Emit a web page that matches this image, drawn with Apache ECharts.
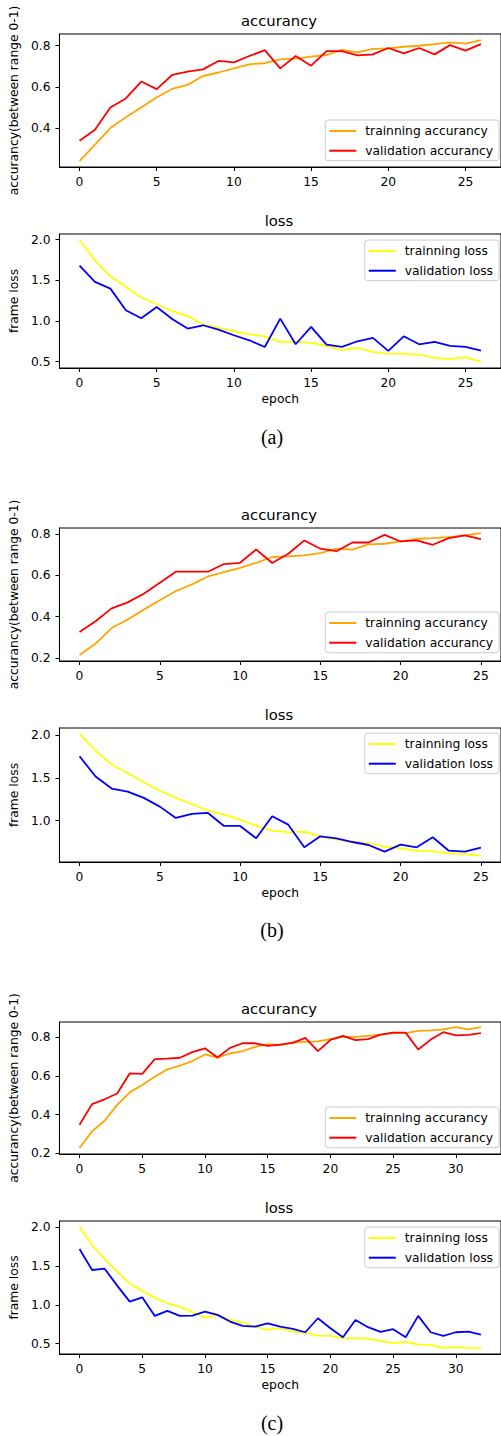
<!DOCTYPE html>
<html>
<head>
<meta charset="utf-8">
<script src="https://cdn.jsdelivr.net/npm/echarts@6/dist/echarts.min.js"></script>
<style>
  html, body { margin: 0; padding: 0; background: #fff; }
  #main { width: 501px; height: 1436px; }
</style>
</head>
<body>
<div id="main"></div>
<script>
// (a) 27 epochs
var trainAccA = [0.24,0.32,0.40,0.453,0.50,0.55,0.59,0.61,0.653,0.67,0.69,0.71,0.715,0.734,0.737,0.747,0.755,0.78,0.768,0.785,0.787,0.795,0.80,0.808,0.816,0.81,0.827];
var valAccA   = [0.339,0.392,0.50,0.544,0.626,0.589,0.658,0.674,0.685,0.726,0.719,0.75,0.779,0.69,0.75,0.703,0.774,0.774,0.753,0.758,0.789,0.763,0.789,0.758,0.803,0.776,0.808];
var trainLossA = [2.0,1.746,1.55,1.42,1.287,1.205,1.123,1.06,0.959,0.918,0.873,0.836,0.811,0.742,0.746,0.73,0.693,0.64,0.668,0.619,0.598,0.594,0.586,0.545,0.533,0.553,0.50];
var valLossA   = [1.68,1.48,1.398,1.131,1.033,1.172,1.025,0.906,0.947,0.893,0.824,0.762,0.68,1.029,0.713,0.926,0.709,0.68,0.75,0.791,0.631,0.811,0.713,0.742,0.693,0.68,0.635];

// (b) 26 epochs
var trainAccB = [0.215,0.27,0.345,0.386,0.434,0.479,0.524,0.556,0.594,0.615,0.636,0.66,0.688,0.691,0.696,0.707,0.728,0.724,0.749,0.752,0.763,0.776,0.779,0.784,0.792,0.803];
var valAccB   = [0.326,0.378,0.44,0.469,0.511,0.564,0.617,0.617,0.617,0.654,0.66,0.724,0.659,0.704,0.768,0.728,0.716,0.758,0.758,0.795,0.763,0.768,0.747,0.779,0.792,0.774];
var trainLossB = [2.016,1.82,1.656,1.555,1.45,1.35,1.266,1.195,1.117,1.07,1.012,0.941,0.883,0.863,0.871,0.813,0.777,0.758,0.734,0.695,0.676,0.648,0.641,0.617,0.609,0.59];
var valLossB   = [1.754,1.516,1.375,1.34,1.266,1.164,1.031,1.078,1.09,0.938,0.938,0.793,1.051,0.953,0.688,0.816,0.793,0.75,0.715,0.637,0.719,0.688,0.805,0.648,0.637,0.684];

// (c) 33 epochs
var trainAccC = [0.227,0.313,0.368,0.45,0.515,0.553,0.596,0.634,0.653,0.677,0.711,0.695,0.716,0.728,0.75,0.764,0.759,0.773,0.776,0.779,0.79,0.802,0.802,0.807,0.814,0.822,0.822,0.833,0.836,0.841,0.853,0.841,0.853];
var valAccC   = [0.347,0.454,0.479,0.509,0.613,0.611,0.687,0.69,0.694,0.723,0.743,0.695,0.745,0.769,0.769,0.755,0.762,0.771,0.797,0.728,0.786,0.807,0.785,0.79,0.814,0.824,0.824,0.737,0.788,0.826,0.81,0.812,0.821];
var trainLossC = [2.009,1.772,1.592,1.428,1.278,1.179,1.093,1.02,0.977,0.904,0.835,0.87,0.805,0.771,0.719,0.676,0.698,0.655,0.642,0.603,0.599,0.569,0.569,0.565,0.535,0.505,0.522,0.487,0.479,0.444,0.453,0.444,0.44];
var valLossC   = [1.721,1.45,1.467,1.248,1.041,1.097,0.857,0.921,0.857,0.861,0.913,0.87,0.784,0.728,0.719,0.762,0.719,0.689,0.646,0.827,0.698,0.582,0.805,0.711,0.651,0.685,0.582,0.857,0.646,0.599,0.646,0.655,0.616];

// tick labels
var epochTicks25 = [0, 5, 10, 15, 20, 25];
var epochTicks30 = [0, 5, 10, 15, 20, 25, 30];
var accTicksA = [0.4, 0.6, 0.8];
var accTicks = [0.2, 0.4, 0.6, 0.8];
var lossTicks = [0.5, 1.0, 1.5, 2.0];
var lossTicksB = [1.0, 1.5, 2.0];

var names = {
  tAcc: 'trainning accurancy', vAcc: 'validation accurancy',
  tLoss: 'trainning loss', vLoss: 'validation loss'
};

function pts(arr) {
  return arr.map(function (v, i) { return [i, v]; });
}

var FONT = 'DejaVu Sans';
var panels = [
  { top: 34,   h: 133, x: [-1.3, 27.3],  y: [0.211, 0.857], xt: epochTicks25, yt: accTicksA, title: 'accurancy', yName: 'accurancy(between range 0-1)', xName: '', kind: 'acc',  train: trainAccA,  val: valAccA,  legTop: 120 },
  { top: 234,  h: 134, x: [-1.3, 27.3],  y: [0.421, 2.07],  xt: epochTicks25, yt: lossTicks, title: 'loss', yName: 'frame loss', xName: 'epoch', kind: 'loss', train: trainLossA, val: valLossA, legTop: 240 },
  { top: 528,  h: 133, x: [-1.25, 26.25], y: [0.186, 0.828], xt: epochTicks25, yt: accTicks, title: 'accurancy', yName: 'accurancy(between range 0-1)', xName: '', kind: 'acc',  train: trainAccB,  val: valAccB,  legTop: 612 },
  { top: 728,  h: 134, x: [-1.25, 26.25], y: [0.516, 2.084], xt: epochTicks25, yt: lossTicksB, title: 'loss', yName: 'frame loss', xName: 'epoch', kind: 'loss', train: trainLossB, val: valLossB, legTop: 733 },
  { top: 1022, h: 132, x: [-1.6, 33.6],  y: [0.196, 0.879], xt: epochTicks30, yt: accTicks, title: 'accurancy', yName: 'accurancy(between range 0-1)', xName: '', kind: 'acc',  train: trainAccC,  val: valAccC,  legTop: 1107 },
  { top: 1221, h: 133, x: [-1.6, 33.6],  y: [0.365, 2.083], xt: epochTicks30, yt: lossTicks, title: 'loss', yName: 'frame loss', xName: 'epoch', kind: 'loss', train: trainLossC, val: valLossC, legTop: 1227 }
];
var captions = [['(a)', 437], ['(b)', 930], ['(c)', 1423]];

var grid = [], xAxis = [], yAxis = [], series = [], legend = [], graphic = [];

panels.forEach(function (p, k) {
  grid.push({
    left: 57, top: p.top, width: 445, height: p.h,
    show: true, borderColor: '#000', borderWidth: 1, backgroundColor: 'transparent'
  });
  xAxis.push({
    type: 'value', gridIndex: k, min: p.x[0], max: p.x[1],
    name: p.xName, nameLocation: 'middle', nameGap: 25,
    nameTextStyle: { fontFamily: FONT, fontSize: 12.3, color: '#000' },
    axisLine: { show: true, onZero: false, lineStyle: { color: '#000', width: 1 } },
    axisTick: { show: true, inside: false, length: 4, customValues: p.xt, lineStyle: { color: '#000' } },
    axisLabel: { customValues: p.xt, margin: 9, fontFamily: FONT, fontSize: 12.3, color: '#000' },
    splitLine: { show: false }
  });
  yAxis.push({
    type: 'value', gridIndex: k, min: p.y[0], max: p.y[1],
    name: p.yName, nameLocation: 'middle', nameRotate: 90, nameGap: 37,
    nameTextStyle: { fontFamily: FONT, fontSize: 12.3, color: '#000' },
    axisLine: { show: true, onZero: false, lineStyle: { color: '#000', width: 1 } },
    axisTick: { show: true, inside: false, length: 4, customValues: p.yt, lineStyle: { color: '#000' } },
    axisLabel: {
      customValues: p.yt, margin: 9, fontFamily: FONT, fontSize: 12.3, color: '#000',
      formatter: function (v) { return v.toFixed(1); }
    },
    splitLine: { show: false }
  });
  var tn = p.kind === 'acc' ? names.tAcc : names.tLoss;
  var vn = p.kind === 'acc' ? names.vAcc : names.vLoss;
  var tc = p.kind === 'acc' ? '#FFA500' : '#FFFF00';
  var vc = p.kind === 'acc' ? '#FF0000' : '#0000FF';
  series.push({
    name: tn, type: 'line', xAxisIndex: k, yAxisIndex: k, data: pts(p.train),
    symbol: 'none', color: tc, lineStyle: { width: 1.8, color: tc }, z: 2
  });
  series.push({
    name: vn, type: 'line', xAxisIndex: k, yAxisIndex: k, data: pts(p.val),
    symbol: 'none', color: vc, lineStyle: { width: 1.8, color: vc }, z: 3
  });
  legend.push({
    data: [tn, vn], orient: 'vertical', right: 2, top: p.legTop,
    icon: 'rect', itemWidth: 27, itemHeight: 2,
    padding: [4, 6, 3, 4], itemGap: 5.7,
    borderColor: '#cccccc', borderWidth: 1, borderRadius: 3,
    backgroundColor: 'rgba(255,255,255,0.8)',
    selectedMode: false,
    textStyle: { fontFamily: FONT, fontSize: 12.3, color: '#000', lineHeight: 14, padding: [0, 0, 0, 4] }
  });
  graphic.push({
    type: 'text', x: 279, y: p.top - 13.5,
    style: {
      text: p.title, font: '14.8px "DejaVu Sans"', fill: '#000',
      align: 'center', verticalAlign: 'middle', textAlign: 'center', textVerticalAlign: 'middle'
    }
  });
});

captions.forEach(function (c) {
  graphic.push({
    type: 'text', x: 272, y: c[1],
    style: {
      text: c[0], font: '20px "Liberation Serif"', fill: '#000',
      align: 'center', verticalAlign: 'middle', textAlign: 'center', textVerticalAlign: 'middle'
    }
  });
});

var myChart = echarts.init(document.getElementById('main'), null, { renderer: 'svg' });
myChart.setOption({
  animation: false,
  backgroundColor: '#fff',
  grid: grid,
  xAxis: xAxis,
  yAxis: yAxis,
  legend: legend,
  series: series,
  graphic: graphic
});
</script>
</body>
</html>
